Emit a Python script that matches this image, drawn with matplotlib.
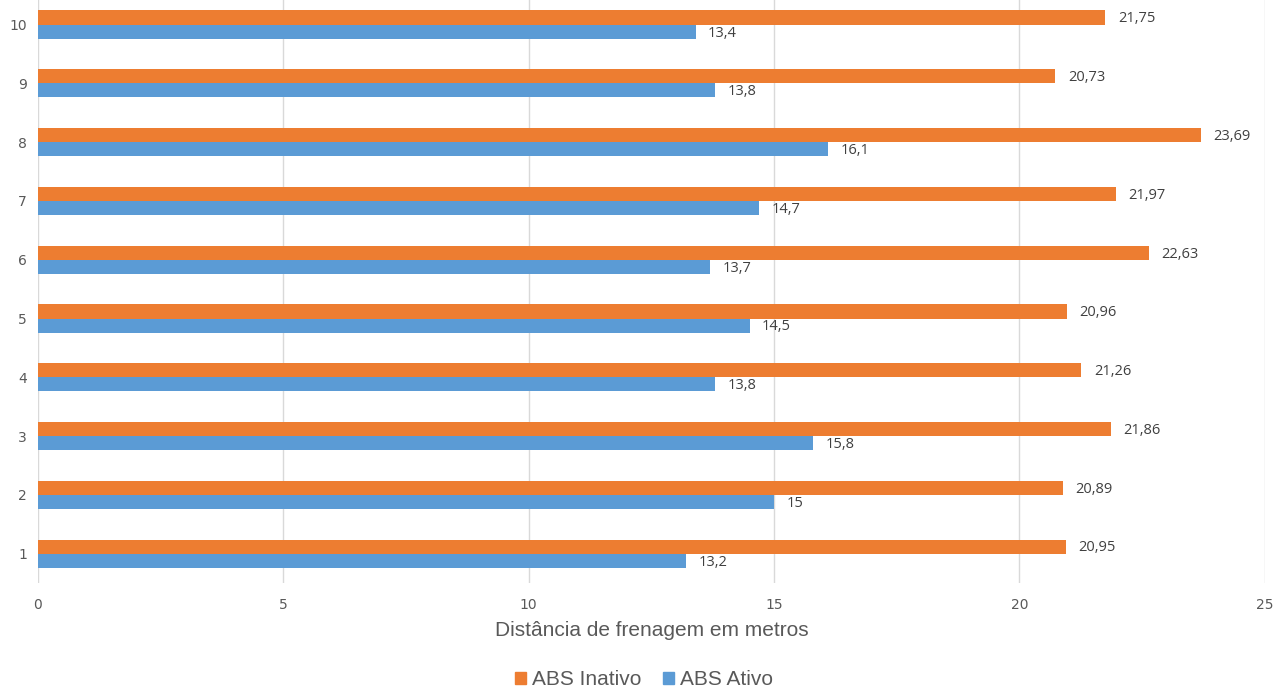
import matplotlib.pyplot as plt
from matplotlib.patches import Patch
import numpy as np

ensaios = ['1', '2', '3', '4', '5', '6', '7', '8', '9', '10']
abs_inativo = [20.95, 20.89, 21.86, 21.26, 20.96, 22.63, 21.97, 23.69, 20.73, 21.75]
abs_ativo = [13.2, 15, 15.8, 13.8, 14.5, 13.7, 14.7, 16.1, 13.8, 13.4]

cor_inativo = '#ED7D31'
cor_ativo = '#5B9BD5'
cinza = '#595959'

y = np.arange(len(ensaios))
h = 0.24

fig = plt.figure(figsize=(12.88, 6.9), dpi=100)
ax = fig.add_axes([0.0295, 0.155, 0.9525, 0.852])

b1 = ax.barh(y + h / 2, abs_inativo, h, color=cor_inativo)
b2 = ax.barh(y - h / 2, abs_ativo, h, color=cor_ativo)

def fmt(v):
    s = f'{v:.2f}'.rstrip('0').rstrip('.')
    return s.replace('.', ',')

for bars, vals in ((b1, abs_inativo), (b2, abs_ativo)):
    for rect, v in zip(bars, vals):
        ax.annotate(fmt(v), xy=(rect.get_width(), rect.get_y() + rect.get_height() / 2),
                    xytext=(9, -1), textcoords='offset points', ha='left', va='center',
                    fontsize=10.5, color='#404040', family='Open Sans')

ax.set_xlim(0, 25)
ax.set_ylim(-0.5, len(ensaios) - 0.5)
ax.set_xticks([0, 5, 10, 15, 20, 25])
ax.set_yticks(y)
ax.set_yticklabels(ensaios)
ax.tick_params(length=0, labelsize=10, labelcolor=cinza, pad=8)
ax.tick_params(axis='x', pad=11)
ax.xaxis.grid(True, color='#D9D9D9', linewidth=1)
ax.set_axisbelow(True)
for s in ax.spines.values():
    s.set_visible(False)

ax.set_xlabel('Distância de frenagem em metros', fontsize=15, color=cinza,
              family='Liberation Sans', labelpad=6)

handles = [Patch(color=cor_inativo, label='ABS Inativo'), Patch(color=cor_ativo, label='ABS Ativo')]
fig.legend(handles=handles, loc='center', bbox_to_anchor=(0.5, 0.015), ncol=2, frameon=False,
           prop={'family': 'Liberation Sans', 'size': 15}, labelcolor=cinza,
           handlelength=0.55, handleheight=0.55, handletextpad=0.3, columnspacing=1.0)

fig.savefig('out.png', dpi=100)
